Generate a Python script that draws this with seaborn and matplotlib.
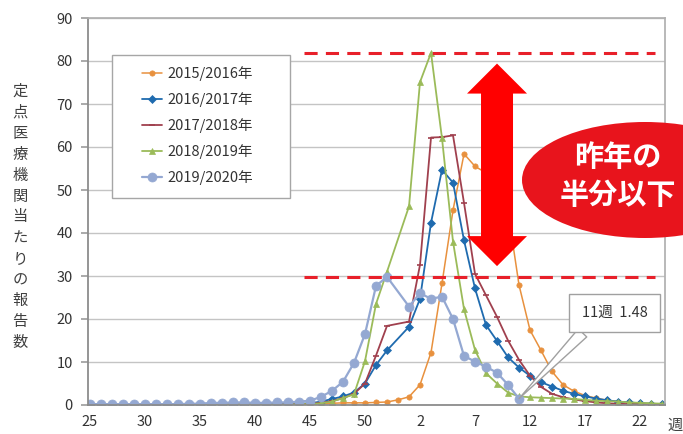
import numpy as np
import pandas as pd
import matplotlib
matplotlib.use('Agg')
import matplotlib.pyplot as plt
from matplotlib.patches import Ellipse, Polygon, Rectangle
import seaborn as sns

sns.set_theme(style='white')
plt.rcParams['font.family'] = ['Noto Sans CJK JP', 'DejaVu Sans']
plt.rcParams['axes.unicode_minus'] = False

# ====================== データ ======================
NA = np.nan
weeks = list(range(25, 54)) + list(range(1, 25))

s1516 = [0.1, 0.1, 0.1, 0.1, 0.1, 0.1, 0.1, 0.1, 0.1, 0.1, 0.1, 0.1, 0.1, 0.1, 0.1, 0.1, 0.1, 0.1, 0.1, 0.2, 0.2,
         0.3, 0.4, 0.5, 0.5, 0.5, 0.6, 0.7, 1.2,
         1.9, 4.7, 12.2, 28.3, 45.3, 58.4, 55.5, 54.0, 51.0, 45.0, 27.9, 17.4,
         12.7, 7.8, 4.7, 3.2, 2.2, 1.6, 1.1, 0.8, 0.6, 0.4, 0.3, 0.2]
s1617 = [0.1, 0.1, 0.1, 0.1, 0.1, 0.1, 0.1, 0.1, 0.1, 0.1, 0.1, 0.1, 0.1, 0.1, 0.1, 0.2, 0.2, 0.2, 0.3, 0.3, 0.4,
         0.8, 1.4, 2.0, 2.9, 5.0, 9.3, 12.7, NA,
         18.2, 24.7, 42.4, 54.7, 51.7, 38.3, 27.1, 18.6, 14.9, 11.1, 8.7, 6.8,
         5.3, 4.3, 3.3, 2.6, 2.0, 1.5, 1.1, 0.8, 0.6, 0.4, 0.3, 0.2]
s1718 = [0.1, 0.1, 0.1, 0.1, 0.1, 0.1, 0.1, 0.1, 0.1, 0.1, 0.1, 0.1, 0.1, 0.1, 0.1, 0.1, 0.1, 0.1, 0.2, 0.2, 0.3,
         0.5, 0.9, 1.6, 2.6, 5.0, 11.5, 18.4, NA,
         19.4, 32.6, 62.2, 62.3, 62.7, 47.0, 30.5, 25.5, 20.5, 15.0, 10.5, 6.8,
         4.2, 2.6, 1.8, 1.3, 0.9, 0.6, 0.4, 0.3, 0.2, 0.2, 0.1, 0.1]
s1819 = [0.1, 0.1, 0.1, 0.1, 0.1, 0.1, 0.1, 0.1, 0.1, 0.1, 0.1, 0.1, 0.1, 0.1, 0.1, 0.1, 0.1, 0.1, 0.1, 0.2, 0.2,
         0.4, 0.8, 1.6, 2.5, 10.2, 23.5, 31.0, NA,
         46.2, 75.1, 81.9, 62.0, 38.0, 22.3, 12.8, 7.4, 5.0, 2.9, 2.0, 1.8,
         1.7, 1.6, 1.5, 1.4, 1.2, 1.0, 0.9, 0.8, 0.6, 0.5, 0.4, 0.3]
s1920 = [0.2, 0.2, 0.2, 0.2, 0.2, 0.2, 0.2, 0.2, 0.2, 0.3, 0.3, 0.5, 0.5, 0.6, 0.6, 0.5, 0.5, 0.6, 0.6, 0.8, 1.0,
         1.9, 3.3, 5.4, 9.8, 16.5, 27.7, 29.8, NA,
         22.9, 26.0, 24.7, 25.2, 20.0, 11.4, 10.1, 8.9, 7.5, 4.7, 1.48, NA,
         NA, NA, NA, NA, NA, NA, NA, NA, NA, NA, NA, NA]

seasons = ['2015/2016年', '2016/2017年', '2017/2018年', '2018/2019年', '2019/2020年']
series = [s1516, s1617, s1718, s1819, s1920]
colors = ['#E8913E', '#1F6BAF', '#A0404E', '#9BBB59', '#94A8D2']
markers = ['o', 'D', '_', '^', 'o']
msizes = [3.8, 4.5, 5, 4.5, 6.5]
lwidths = [1.1, 1.3, 1.3, 1.3, 1.6]

df = pd.DataFrame({'pos': np.arange(len(weeks))})
for name, vals in zip(seasons, series):
    df[name] = vals
long = df.melt(id_vars='pos', var_name='season', value_name='value').dropna()

# ====================== 描画 ======================
fig = plt.figure(figsize=(6.83, 4.34), dpi=100)
fig.patch.set_facecolor('white')
ax = fig.add_axes([88 / 683, 1 - 405 / 434, 577 / 683, 387 / 434])

for name, c, m, ms, lw in zip(seasons, colors, markers, msizes, lwidths):
    sub = long[long['season'] == name]
    sns.lineplot(data=sub, x='pos', y='value', color=c, marker=m, markersize=ms,
                 markeredgecolor=c, markeredgewidth=1.2 if m == '_' else 0.5,
                 lw=lw, estimator=None, label=name, ax=ax)

ax.set_xlim(-0.18, 52.27)
ax.set_ylim(0, 90)
ax.set_yticks(range(0, 91, 10))
major = list(range(0, len(weeks), 5))
ax.set_xticks(major, [str(weeks[i]) for i in major])
ax.set_xticks(range(len(weeks)), minor=True)
ax.set_xlabel('')
ax.set_ylabel('')
ax.tick_params(axis='x', which='both', direction='in', length=4, color='#888888',
               labelsize=10.5, labelcolor='#333333', pad=7)
ax.tick_params(axis='y', direction='out', length=5, color='#A0A0A0', left=True,
               labelsize=10.5, labelcolor='#333333', pad=6)
ax.grid(axis='y', color='#C4C4C4', lw=1)
ax.set_axisbelow(True)
for side in ['top', 'right']:
    ax.spines[side].set_color('#B0B0B0')
for side in ['left', 'bottom']:
    ax.spines[side].set_color('#8C8C8C')
    ax.spines[side].set_linewidth(1.3)

# 凡例
ax.add_patch(Rectangle((0.0416, 0.535), 0.3085, 0.369, transform=ax.transAxes,
                       fc='white', ec='#A6A6A6', lw=1, zorder=3))
leg = ax.legend(loc='center', bbox_to_anchor=(0.19, 0.722), frameon=False, fontsize=10.5,
                handlelength=1.4, handletextpad=0.4, labelspacing=0.75)
leg.set_zorder(4)
for t in leg.get_texts():
    t.set_color('#333333')

# 昨年ピークと今年ピーク
top_val = np.nanmax(s1819)
bot_val = np.nanmax(s1920)
ax.hlines([top_val, bot_val], 19.5, 51.4, colors='#E8202A', linestyles=(0, (4.3, 2.7)),
          lw=2.2, zorder=6)

# 両矢印
ARROW_POS = 37
bb = ax.get_window_extent()
xpp = (ax.get_xlim()[1] - ax.get_xlim()[0]) / bb.width
ypp = 90 / bb.height
sw, hw, hl = 16 * xpp, 30 * xpp, 30 * ypp
yt, yb = top_val - 2.5, bot_val + 2.5
verts = [(ARROW_POS, yt), (ARROW_POS + hw, yt - hl), (ARROW_POS + sw, yt - hl),
         (ARROW_POS + sw, yb + hl), (ARROW_POS + hw, yb + hl), (ARROW_POS, yb),
         (ARROW_POS - hw, yb + hl), (ARROW_POS - sw, yb + hl), (ARROW_POS - sw, yt - hl),
         (ARROW_POS - hw, yt - hl)]
ax.add_patch(Polygon(verts, closed=True, fc='#FF0000', ec='none', zorder=7))

# 最新週の注記
last = int(np.where(~np.isnan(np.array(s1920)))[0][-1])
ax.annotate(f'{weeks[last]}週  {s1920[last]}', xy=(last, s1920[last]), xytext=(47.7, 21.4),
            ha='center', va='center', fontsize=10.5, color='#333333',
            bbox=dict(boxstyle='square,pad=0.85', fc='white', ec='#A0A0A0', lw=1),
            arrowprops=dict(arrowstyle='wedge,tail_width=0.8', fc='white', ec='#A0A0A0', lw=1,
                            shrinkA=0, shrinkB=0, relpos=(0.2, 0)),
            zorder=8)

# 吹き出し
fig.add_artist(Ellipse((645 / 683, 1 - 180 / 434), 246 / 683, 116 / 434, transform=fig.transFigure,
                       fc='#E8141C', ec='none', zorder=5))
fig.text(618 / 683, 1 - 176 / 434, '昨年の\n半分以下', color='white', fontsize=21, fontweight='bold',
         ha='center', va='center', multialignment='center', linespacing=1.3, zorder=6)

# 軸ラベル
fig.text(20 / 683, 1 - 217 / 434, '\n'.join('定点医療機関当たりの報告数'), ha='center', va='center',
         fontsize=11, color='#404040', linespacing=1.3)
fig.text(668 / 683, 1 - 425 / 434, '週', ha='left', va='center', fontsize=11, color='#404040')

fig.savefig('out.png', dpi=100)
